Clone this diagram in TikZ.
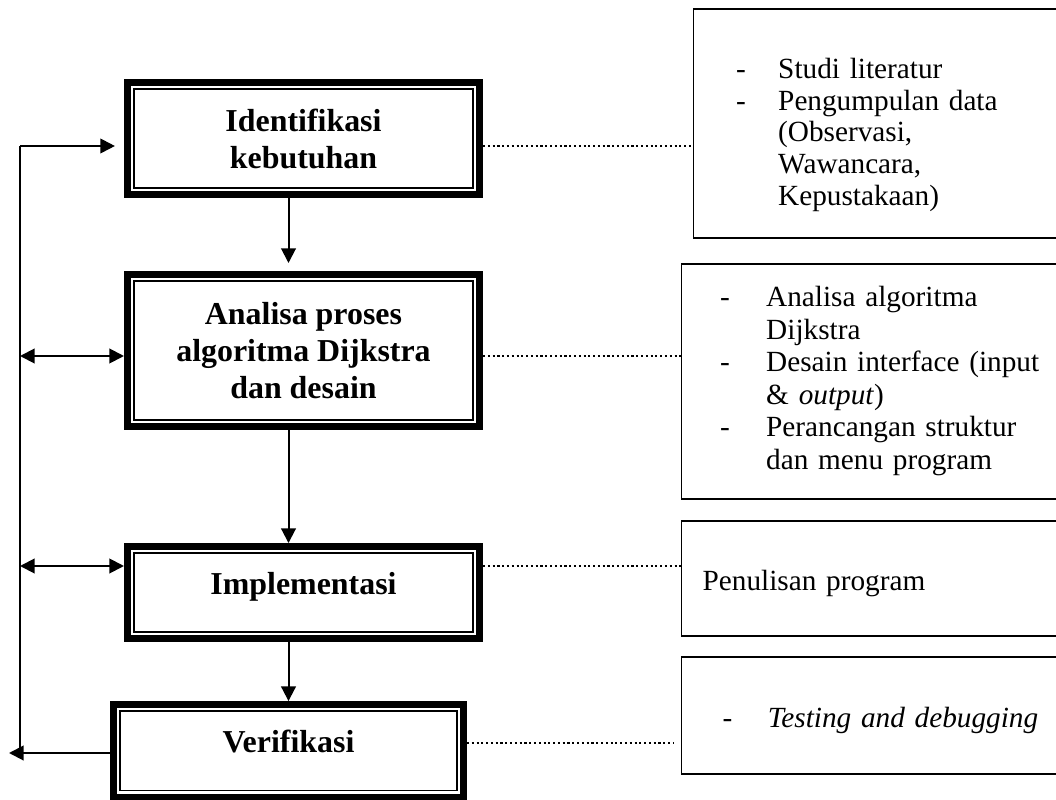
\documentclass[tikz,border=0pt]{standalone}
\usepackage{fontspec}
\setmainfont{Liberation Serif}
\usetikzlibrary{positioning, arrows.meta}
\tikzstyle{stage} = [rectangle, draw, line width=2.6pt, align=center,
font=\fontsize{12}{13.9}\selectfont\bfseries, minimum width=132.4pt]
\tikzstyle{note} = [rectangle, draw, line width=0.5pt, anchor=west, align=left,
font=\fontsize{11}{12.2}\selectfont]
\tikzstyle{arrow} = [line width=0.75pt, ->, >={Triangle[length=5.5pt,width=5.5pt]}]
\tikzstyle{darrow} = [line width=0.75pt, <->, >={Triangle[length=5.5pt,width=5.5pt]}]
\tikzstyle{link} = [line width=0.8pt, densely dotted]

\begin{document}
\begin{tikzpicture}[x=0.376pt, y=-0.376pt]
\useasboundingbox (0,0) rectangle (1056,800);
% tahapan
\node (ident) [stage, minimum height=42.1pt] at (303.5,138.6) {Identifikasi\\kebutuhan};
\node (anal) [stage, minimum height=57.2pt] at (303.5,350.5) {Analisa proses\\algoritma Dijkstra\\dan desain};
\node (impl) [stage, minimum height=34.6pt, text height=8.5pt, text depth=7pt] at (303.5,592.5) {Implementasi};
\node (verif) [stage, minimum width=131.6pt, minimum height=34.8pt, text height=8.5pt, text depth=7pt] at (288.5,750.8) {Verifikasi};
\foreach \n in {ident,anal,impl,verif}
    \draw[line width=0.6pt] ([shift={(3.8pt,-3.8pt)}]\n.north west) rectangle ([shift={(-3.8pt,3.8pt)}]\n.south east);

% keterangan
\node (need) [note, inner xsep=16pt, text width=113.5pt, minimum height=86.1pt] at (693,123.5) {\begin{tabular}{@{}p{15.8pt}@{}l@{}}
\noalign{\vskip 9pt}
-&Studi literatur\\[-0.3pt]
-&Pengumpulan data\\[-0.3pt]
&(Observasi,\\[-0.3pt]
&Wawancara,\\[-0.3pt]
&Kepustakaan)
\end{tabular}};
\node (design) [note, inner xsep=14.5pt, text width=121pt, minimum height=88.4pt] at (681,381.5) {\begin{tabular}{@{}p{17.3pt}@{}l@{}}
-&Analisa algoritma\\
&Dijkstra\\
-&Desain interface (input\\
&\& \textit{output})\\
-&Perancangan struktur\\
&dan menu program
\end{tabular}};
\node (code) [note, inner xsep=7.9pt, text width=134pt, minimum height=43.2pt, text height=11.4pt, text depth=2.4pt] at (681,578.5) {Penulisan program};
\node (test) [note, inner xsep=15.4pt, text width=119pt, minimum height=44pt] at (681,715.5) {\begin{tabular}{@{}p{17pt}@{}l@{}}
\noalign{\vskip 4.5pt}
-&\textit{Testing and debugging}
\end{tabular}};

% jalur balik
\coordinate (r1) at (20,146);
\coordinate (r2) at (20,356);
\coordinate (r3) at (20,566);
\coordinate (r4) at (20,753);
\coordinate (back) at (9,753);

\draw [arrow, shorten >=3pt] (ident.south -| verif.north) -- (anal.north -| verif.north);
\draw [arrow] (anal.south -| verif.north) -- (impl.north -| verif.north);
\draw [arrow] (impl.south -| verif.north) -- (verif.north);

\draw [line width=0.75pt] (r1) -- (r4);
\draw [arrow, shorten >=3.4pt] (r1) -- (r1 -| ident.west);
\draw [darrow] (r2) -- (r2 -| anal.west);
\draw [darrow] (r3) -- (r3 -| impl.west);
\draw [arrow] (r4 -| verif.west) -- (back);

\draw [link] (r1 -| ident.east) -- (r1 -| need.west);
\draw [link] (r2 -| anal.east) -- (r2 -| design.west);
\draw [link] (r3 -| impl.east) -- (r3 -| code.west);
\draw [link, shorten >=3pt] ([yshift=3.8pt]r4 -| verif.east) -- ([yshift=3.8pt]r4 -| test.west);
\end{tikzpicture}
\end{document}
